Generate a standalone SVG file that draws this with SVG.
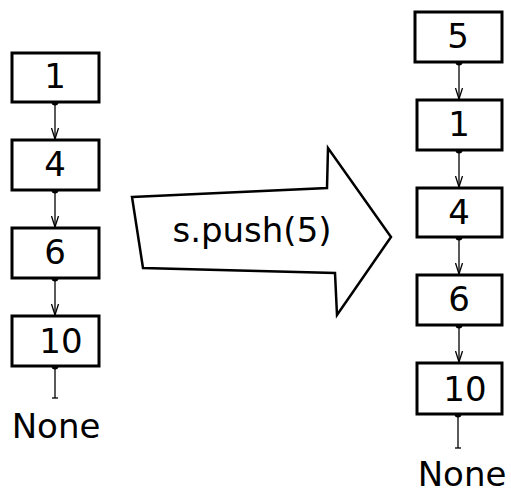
<svg xmlns="http://www.w3.org/2000/svg" width="511" height="493" viewBox="0 0 511 493">
<style>
.box{fill:#fff;stroke:#000;stroke-width:3}
.lbl{font-family:"DejaVu Sans",sans-serif;font-size:34px;fill:#000;text-anchor:middle}
.con{stroke:#000;stroke-width:1.3;fill:none}
.dot{fill:#000}
.big{fill:#fff;stroke:#000;stroke-width:2.5;stroke-linejoin:miter}
</style>
<defs>
<marker id="ah" markerWidth="12" markerHeight="10" refX="11" refY="5" orient="auto" markerUnits="userSpaceOnUse" viewBox="0 0 12 10">
<path d="M0,1.5 L11,5 L0,8.5" fill="none" stroke="#000" stroke-width="1.3"/>
</marker>
</defs>
<g id="connectors">
<line class="con" x1="55" y1="102" x2="55" y2="139" marker-end="url(#ah)"/>
<line class="con" x1="55" y1="190" x2="55" y2="227" marker-end="url(#ah)"/>
<line class="con" x1="55" y1="278" x2="55" y2="315" marker-end="url(#ah)"/>
<line class="con" x1="55" y1="366" x2="55" y2="398"/>
<line class="con" x1="52" y1="398" x2="58" y2="398" stroke="#999"/>
<line class="con" x1="459" y1="62" x2="459" y2="99" marker-end="url(#ah)"/>
<line class="con" x1="459" y1="150" x2="459" y2="187" marker-end="url(#ah)"/>
<line class="con" x1="459" y1="237" x2="459" y2="274" marker-end="url(#ah)"/>
<line class="con" x1="459" y1="325" x2="459" y2="362" marker-end="url(#ah)"/>
<line class="con" x1="458" y1="414" x2="458" y2="448"/>
<line class="con" x1="455" y1="448" x2="461" y2="448" stroke="#999"/>
<circle class="dot" cx="55" cy="102" r="3.5"/>
<circle class="dot" cx="55" cy="190" r="3.5"/>
<circle class="dot" cx="55" cy="278" r="3.5"/>
<circle class="dot" cx="55" cy="366" r="3.5"/>
<circle class="dot" cx="459" cy="62" r="3.5"/>
<circle class="dot" cx="459" cy="150" r="3.5"/>
<circle class="dot" cx="459" cy="237" r="3.5"/>
<circle class="dot" cx="459" cy="325" r="3.5"/>
<circle class="dot" cx="458" cy="414" r="3.5"/>
</g>
<g id="L1"><rect class="box" x="12" y="53" width="87" height="49"/><text class="lbl" x="55" y="88">1</text></g>
<g id="L4"><rect class="box" x="12" y="140" width="87" height="50"/><text class="lbl" x="55" y="176">4</text></g>
<g id="L6"><rect class="box" x="12" y="228" width="87" height="50"/><text class="lbl" x="55" y="264">6</text></g>
<g id="L10"><rect class="box" x="12" y="316" width="87" height="50"/><text class="lbl" x="61" y="353">10</text></g>
<g id="Lnone"><text class="lbl" x="56" y="438">None</text></g>
<g id="push">
<path class="big" d="M132,197 L327,188 L328,148 L391,237 L337,315 L335,273 L143,268 Z"/>
<text class="lbl" x="252" y="242">s.push(5)</text>
</g>
<g id="R5"><rect class="box" x="415" y="12" width="87" height="50"/><text class="lbl" x="458" y="48">5</text></g>
<g id="R1"><rect class="box" x="417" y="100" width="85" height="50"/><text class="lbl" x="459" y="136">1</text></g>
<g id="R4"><rect class="box" x="417" y="188" width="85" height="49"/><text class="lbl" x="459" y="224">4</text></g>
<g id="R6"><rect class="box" x="417" y="275" width="85" height="50"/><text class="lbl" x="459" y="311">6</text></g>
<g id="R10"><rect class="box" x="417" y="363" width="85" height="51"/><text class="lbl" x="465" y="401">10</text></g>
<g id="Rnone"><text class="lbl" x="462" y="486">None</text></g>
</svg>
